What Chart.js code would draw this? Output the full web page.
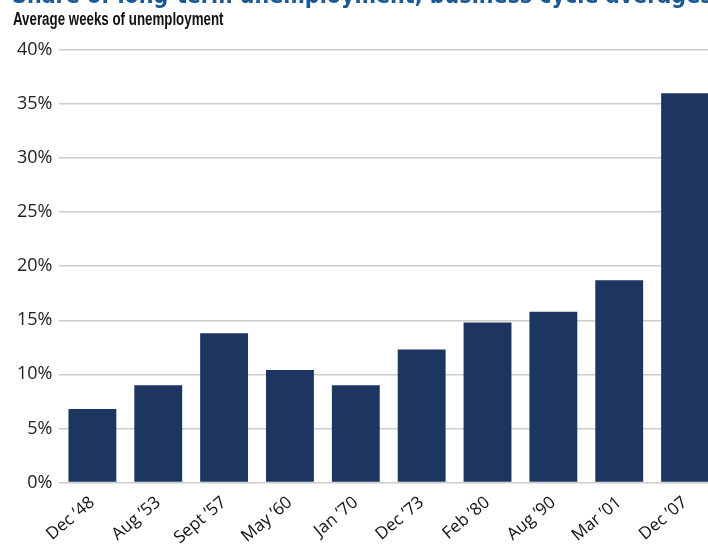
<!DOCTYPE html>
<html>
<head>
<meta charset="utf-8">
<script src="https://cdn.jsdelivr.net/npm/chart.js@4"></script>
<style>
    html, body { margin: 0; padding: 0; background: #fff; overflow: hidden; width: 708px; height: 546px; }
    #wrap { position: absolute; left: 0; top: 0; width: 718px; height: 552px; }
    #title { position: absolute; left: 12px; top: -18px; white-space: nowrap; font-family: "DejaVu Sans Condensed", "DejaVu Sans"; font-weight: bold; font-size: 23px; color: #1a5a96; z-index: 2; }
    #subtitle { position: absolute; left: 13px; top: 9px; white-space: nowrap; font-family: "Liberation Sans", Arial; font-weight: bold; font-size: 18px; color: #111; z-index: 2; transform: scaleX(0.74); transform-origin: left top; }
</style>
</head>
<body>
<div id="title">Share of long-term unemployment, business cycle averages</div>
<div id="subtitle">Average weeks of unemployment</div>
<div id="wrap"><canvas id="chart"></canvas></div>
<script>
// Données
const cycles = ['Dec \u201948', 'Aug \u201953', 'Sept \u201957', 'May \u201960', 'Jan \u201970',
                'Dec \u201973', 'Feb \u201980', 'Aug \u201990', 'Mar \u201901', 'Dec \u201907'];
const longTermShare = [6.8, 9.0, 13.8, 10.4, 9.0, 12.3, 14.8, 15.8, 18.7, 36.0];
const yTicks = [0, 5, 10, 15, 20, 25, 30, 35, 40];

const ctx = document.getElementById('chart').getContext('2d');
const chart = new Chart(ctx, {
    type: 'bar',
    data: {
        labels: cycles,
        datasets: [{
            data: longTermShare,
            backgroundColor: '#1d3561',
            borderWidth: 0,
            categoryPercentage: 1,
            barPercentage: 0.727
        }]
    },
    options: {
        responsive: true,
        maintainAspectRatio: false,
        animation: false,
        layout: { padding: { top: 50, left: 10, right: 0, bottom: 2 } },
        plugins: {
            legend: { display: false },
            tooltip: { enabled: false }
        },
        scales: {
            x: {
                grid: { display: false },
                border: { display: false },
                ticks: {
                    color: '#111',
                    font: { family: 'Open Sans', size: 17 },
                    minRotation: 40,
                    maxRotation: 40,
                    padding: 2
                }
            },
            y: {
                min: 0,
                max: 40,
                afterBuildTicks: (axis) => { axis.ticks = yTicks.map(v => ({ value: v })); },
                grid: { color: '#cccccc', lineWidth: 1.5, drawTicks: false },
                border: { display: false },
                ticks: {
                    color: '#222',
                    font: { family: 'Open Sans', size: 18 },
                    padding: 7,
                    callback: (v) => v + '%'
                }
            }
        }
    }
});
</script>
</body>
</html>
